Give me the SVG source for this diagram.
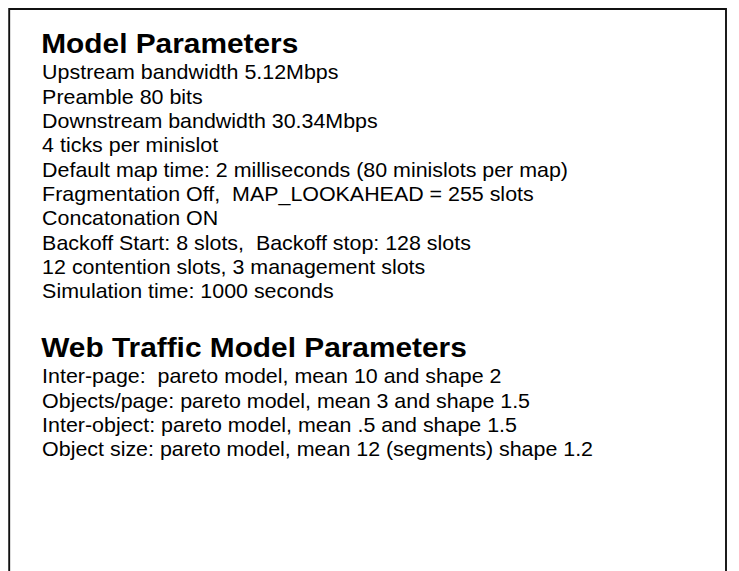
<svg xmlns="http://www.w3.org/2000/svg" width="739" height="571" viewBox="0 0 739 571">
  <style>
    .frame { fill: none; stroke: #111; stroke-width: 1.9; }
    .head { font-family: "Liberation Sans", Arial, sans-serif; font-weight: bold; font-size: 34px; fill: #000; }
    .body { font-family: "Liberation Sans", Arial, sans-serif; font-size: 24.4px; fill: #000; white-space: pre; }
  </style>
  <rect width="739" height="571" fill="#fff"/>
  <!-- frame: left, top and right edges; runs past the bottom of the page -->
  <path class="frame" d="M9.2,575 V9 H726 V575"/>

  <!-- text block is laid out on a wider grid and fitted to the page -->
  <g transform="scale(0.8777 0.8336)">
    <g id="model-parameters">
      <text class="head" x="47" y="63">Model Parameters</text>
      <text class="body" x="48" y="95">Upstream bandwidth 5.12Mbps</text>
      <text class="body" x="48" y="124.2">Preamble 80 bits</text>
      <text class="body" x="48" y="153.4">Downstream bandwidth 30.34Mbps</text>
      <text class="body" x="48" y="182.6">4 ticks per minislot</text>
      <text class="body" x="48" y="211.8">Default map time: 2 milliseconds (80 minislots per map)</text>
      <text class="body" x="48" y="241" xml:space="preserve">Fragmentation Off,  MAP_LOOKAHEAD = 255 slots</text>
      <text class="body" x="48" y="270.2">Concatonation ON</text>
      <text class="body" x="48" y="299.4" xml:space="preserve">Backoff Start: 8 slots,  Backoff stop: 128 slots</text>
      <text class="body" x="48" y="328.6">12 contention slots, 3 management slots</text>
      <text class="body" x="48" y="357.8">Simulation time: 1000 seconds</text>
    </g>

    <g id="web-traffic-parameters">
      <text class="head" x="47" y="428">Web Traffic Model Parameters</text>
      <text class="body" x="48" y="460" xml:space="preserve">Inter-page:  pareto model, mean 10 and shape 2</text>
      <text class="body" x="48" y="489.2">Objects/page: pareto model, mean 3 and shape 1.5</text>
      <text class="body" x="48" y="518.4">Inter-object: pareto model, mean .5 and shape 1.5</text>
      <text class="body" x="48" y="547.6">Object size: pareto model, mean 12 (segments) shape 1.2</text>
    </g>
  </g>
</svg>
